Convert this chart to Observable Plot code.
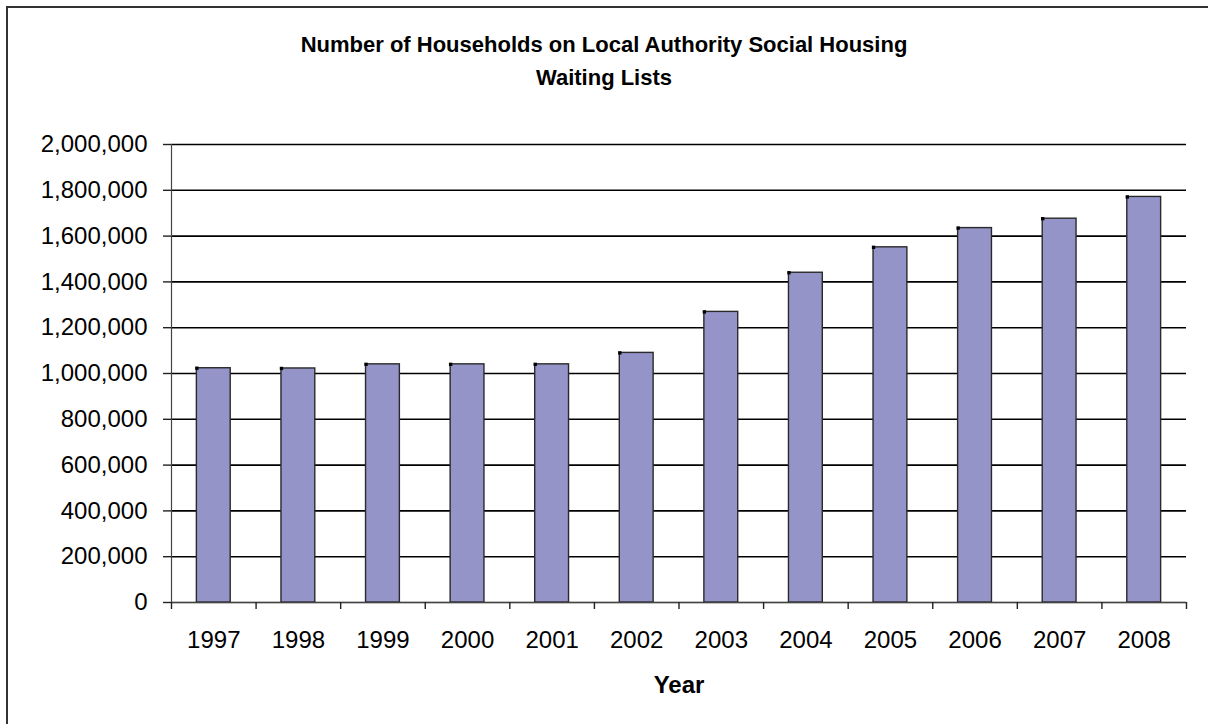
<!DOCTYPE html>
<html>
<head>
<meta charset="utf-8">
<script src="https://cdn.jsdelivr.net/npm/d3@7"></script>
<script src="https://cdn.jsdelivr.net/npm/@observablehq/plot@0.6"></script>
<style>
  html, body { margin: 0; padding: 0; background: #fff; }
  #fig { position: relative; width: 1208px; height: 724px; overflow: hidden; font-family: "Liberation Sans", Arial, sans-serif; }
  #frame { position: absolute; left: 6px; top: 6px; width: 1220px; height: 740px; border: 2px solid #333; box-sizing: border-box; }
  #title { position: absolute; left: 0; top: 28px; width: 1208px; text-align: center; font-size: 22px; font-weight: bold; line-height: 33px; color: #000; }
  #chart { position: absolute; left: 0; top: 0; }
</style>
</head>
<body>
<div id="fig">
  <div id="frame"></div>
  <div id="title">Number of Households on Local Authority Social Housing<br>Waiting Lists</div>
  <div id="chart"></div>
</div>
<script>
const years = ["1997","1998","1999","2000","2001","2002","2003","2004","2005","2006","2007","2008"];
const households = [1023000, 1022000, 1040000, 1040000, 1040000, 1090000, 1269000, 1440000, 1551000, 1635000, 1676000, 1771000];
const yTicks = [0, 200000, 400000, 600000, 800000, 1000000, 1200000, 1400000, 1600000, 1800000, 2000000];
const xLabel = "Year";

const data = years.map((y, i) => ({year: y, value: households[i]}));

const W = 1208, H = 724;
const mL = 171, mR = 22, mT = 144, mB = 122;
const step = (W - mL - mR) / years.length;
const bw = step * 0.4;

const chart = Plot.plot({
  width: W,
  height: H,
  marginLeft: mL,
  marginRight: mR,
  marginTop: mT,
  marginBottom: mB,
  style: {fontFamily: "Liberation Sans, Arial, sans-serif", fontSize: "24px", color: "#000", background: "transparent", overflow: "visible"},
  x: {type: "band", domain: years, paddingInner: 0.6, paddingOuter: 0.3, round: false, label: null},
  y: {domain: [0, 2000000], label: null},
  marks: [
    Plot.gridY(yTicks, {stroke: "#000", strokeOpacity: 1, strokeWidth: 1.6}),
    Plot.barY(data, {x: "year", y: "value", fill: "#9494C8", stroke: "#2a2a2a", strokeWidth: 1.4}),
    Plot.dot(data, {x: "year", y: "value", symbol: "square", r: 1.9, fill: "#000", stroke: null, dx: -bw / 2}),
    // y axis line
    Plot.ruleX([years[0]], {dx: -step / 2, stroke: "#444", strokeWidth: 1.2}),
    // x axis line
    Plot.ruleY([0], {stroke: "#444", strokeWidth: 1.2}),
    // category boundary ticks
    Plot.ruleX(years, {dx: -step / 2, insetTop: (H - mT - mB) - 7, dy: 7, stroke: "#222", strokeWidth: 1.4}),
    Plot.ruleX([years[years.length - 1]], {dx: step / 2, insetTop: (H - mT - mB) - 7, dy: 7, stroke: "#222", strokeWidth: 1.4}),
    Plot.axisY({ticks: yTicks, tickFormat: d3.format(","), tickSize: 8, tickPadding: 16, stroke: "#222", strokeWidth: 1.4, fontSize: 24, label: null}),
    Plot.axisX({tickSize: 0, tickPadding: 28, fontSize: 24, label: null}),
    Plot.text([xLabel], {frameAnchor: "bottom", dy: 90, lineAnchor: "bottom", fontWeight: "bold", fontSize: 24, fill: "#000"})
  ]
});
document.getElementById("chart").appendChild(chart);
</script>
</body>
</html>
